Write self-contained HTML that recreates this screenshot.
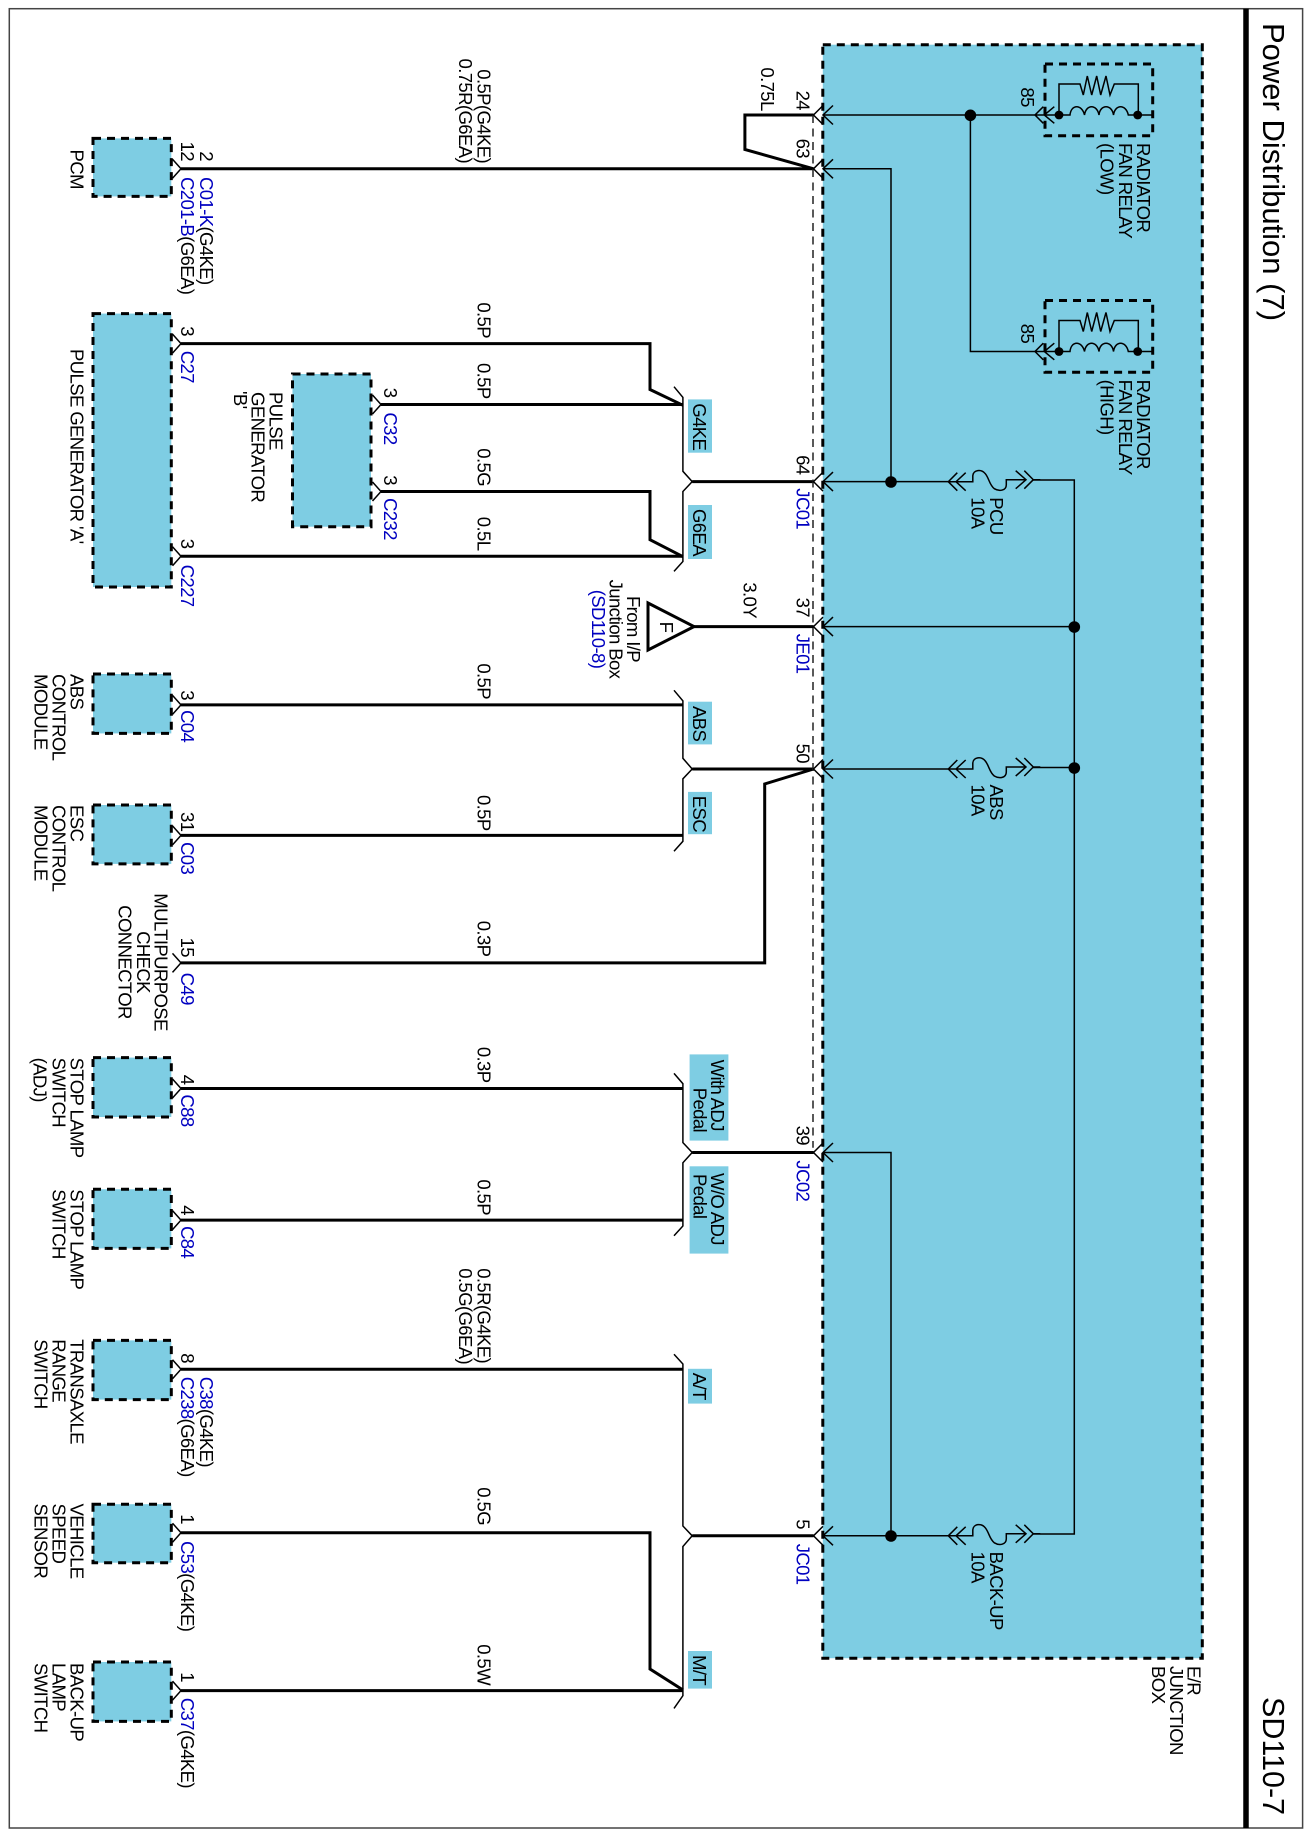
<!DOCTYPE html>
<html><head><meta charset="utf-8"><title>Power Distribution (7)</title>
<style>
html,body{margin:0;padding:0;background:#fff}
svg{display:block}
text{font-family:"Liberation Sans",Arial,sans-serif;font-size:18.6px;letter-spacing:-0.65px;fill:#000}
.b{fill:#0000c0}
text.t{font-size:31px;letter-spacing:0}
text.t2{font-size:30.5px;letter-spacing:0}
.e{text-anchor:end}
.m{text-anchor:middle}
.w{fill:none;stroke:#000;stroke-width:3}
.n{fill:none;stroke:#000;stroke-width:1.5}
.d{fill:#7ecde3;stroke:#000;stroke-width:3;stroke-dasharray:8 6}
.l{fill:#7ecde3;stroke:none}
</style></head><body>
<svg width="1311" height="1839" viewBox="0 0 1311 1839" xmlns="http://www.w3.org/2000/svg">
<defs>
<path id="mc" class="n" d="M-8.5,-9.5 L0,0 L-8.5,9.5"/>
<path id="fc" class="n" d="M0,-9.5 L-9.5,0 L0,9.5 M10,-9.5 L0,0 L10,9.5"/>
<g id="fuse">
<path class="n" d="M9,-9 L0,0 L9,9 M17.4,-9 L7.7,0 L17.4,9 M0,0 H24.5 V-6 C25,-12 33,-13 37,-8 C41,-3 41,3 46,7 C51,10 58,9 58,3 V-2 H77.7 M67.4,-11 L77.7,-2 L67.4,7 M76,-11 L85,-2 L76,7 M85,-2 H92"/>
</g>
<g id="relay">
<rect class="d" x="1045" y="64" width="107.7" height="71.7"/>
<path class="n" d="M1035,115 L1059,115 M1043.3,106.7 L1035,115 L1043.3,123.3 M1054.3,106.7 L1044.3,115 L1054.3,123.3"/>
<path class="n" d="M1059,115 V84 H1080 L1083.3,95 L1087.3,76 L1091.7,95 L1096.7,76 L1100.7,95 L1106,76 L1110,95 L1114.3,84 H1138.3 V115"/>
<path class="n" d="M1059,115 H1070 C1071,104 1082,104 1084.5,115 C1086,104 1097,104 1099,115 C1100,104 1112,104 1113.5,115 C1115,104 1126,104 1128.3,115 H1152.7"/>
<circle cx="1059" cy="115" r="4.4"/><circle cx="1137.7" cy="115" r="4.4"/>
</g>
</defs>
<rect width="1311" height="1839" fill="#fff"/>
<rect x="9.3" y="8.7" width="1293.3" height="1819.3" fill="none" stroke="#444" stroke-width="1.5"/>
<path d="M1246,8.7 V1828" stroke="#000" stroke-width="5.5" fill="none"/>

<!-- E/R box -->
<rect class="d" x="822.8" y="44.7" width="379.5" height="1613.5"/>

<!-- module boxes -->
<rect class="d" x="93" y="138.4" width="78.3" height="58"/>
<rect class="d" x="93" y="313.6" width="78.3" height="273.4"/>
<rect class="d" x="292.5" y="374" width="78.5" height="152.7"/>
<rect class="d" x="93" y="674" width="78.3" height="59.4"/>
<rect class="d" x="93" y="805" width="78.3" height="58.9"/>
<rect class="d" x="93" y="1057.6" width="78.3" height="59.4"/>
<rect class="d" x="93" y="1189.3" width="78.3" height="59.1"/>
<rect class="d" x="93" y="1340.4" width="78.3" height="59.2"/>
<rect class="d" x="93" y="1504.2" width="78.3" height="58.5"/>
<rect class="d" x="93" y="1662" width="78.3" height="59.4"/>

<!-- label boxes -->
<rect class="l" x="688" y="399.4" width="24" height="53.3"/>
<rect class="l" x="688" y="505" width="24" height="54"/>
<rect class="l" x="688" y="701.7" width="24" height="42.7"/>
<rect class="l" x="688" y="791.9" width="24" height="42.3"/>
<rect class="l" x="689.6" y="1054.4" width="38.8" height="86.2"/>
<rect class="l" x="689.6" y="1166.3" width="38.8" height="87.3"/>
<rect class="l" x="688" y="1368.8" width="24" height="34.8"/>
<rect class="l" x="688" y="1651" width="24" height="37.6"/>

<!-- thick wires -->
<path class="w" d="M181,168.8 H813.6 L744.9,149.5 V115 H813.6"/>
<path class="w" d="M181,343.6 H650 V389.5 L683,405.3"/>
<path class="w" d="M381,404.5 H683"/>
<path class="w" d="M381,491.5 H650 V539.7 L683,556.7"/>
<path class="w" d="M181,556.3 H683"/>
<path class="w" d="M692.2,481.6 H813.6"/>
<path class="w" d="M694,626.6 H813.6"/>
<path class="w" d="M694,626.6 L648,603 V650 Z"/>
<path class="w" d="M181,704.9 H682.9"/>
<path class="w" d="M692.2,769 H813.6 L764.7,784 V962.9 H181"/>
<path class="w" d="M181,835.4 H682.9"/>
<path class="w" d="M181,1088.5 H682.9"/>
<path class="w" d="M692.2,1152.5 H813.6"/>
<path class="w" d="M181,1220.1 H682.9"/>
<path class="w" d="M181,1369.2 H682.9"/>
<path class="w" d="M181,1532.7 H650 V1669 L683,1690"/>
<path class="w" d="M181,1690.6 H683"/>
<path class="w" d="M692.2,1535.8 H813.6"/>

<!-- splice brackets -->
<path class="n" d="M674,386.7 L682.9,397.4 V471.3 L692.2,481.6 L682.9,491.5 V561.5 L674,571.4"/>
<path class="n" d="M674,690.3 L682.9,700.9 V758.3 L692.2,769 L682.9,778.8 V841.3 L674,851.2"/>
<path class="n" d="M674,1073.4 L682.9,1083.7 V1142.6 L692.2,1152.5 L682.9,1162.8 V1226 L674,1235.8"/>
<path class="n" d="M674,1354.2 L682.9,1364 V1526 L692.2,1535.8 L682.9,1546.5 V1695.7 L674,1708.4"/>

<!-- dashed shared line -->
<path d="M813,115 V1147.8" fill="none" stroke="#222" stroke-width="1.5" stroke-dasharray="8 5.5"/>

<!-- male connectors -->
<use href="#mc" x="181" y="168.8"/><use href="#mc" x="181" y="343.6"/><use href="#mc" x="381" y="404.5"/>
<use href="#mc" x="381" y="491.5"/><use href="#mc" x="181" y="556.3"/><use href="#mc" x="181" y="704.9"/>
<use href="#mc" x="181" y="835.4"/><use href="#mc" x="181" y="962.9"/><use href="#mc" x="181" y="1088.5"/>
<use href="#mc" x="181" y="1220.1"/><use href="#mc" x="181" y="1369.2"/><use href="#mc" x="181" y="1532.7"/>
<use href="#mc" x="181" y="1690.6"/>

<!-- female connectors -->
<use href="#fc" x="823" y="115"/><use href="#fc" x="823" y="168.8"/><use href="#fc" x="823" y="481.6"/>
<use href="#fc" x="823" y="626.6"/><use href="#fc" x="823" y="769"/><use href="#fc" x="823" y="1152.5"/><use href="#fc" x="823" y="1535.8"/>

<!-- internal lines -->
<path class="n" d="M823,115 H1035.7"/>
<path class="n" d="M970.4,115 V351.5 H1035.7"/>
<path class="n" d="M823,168.8 H891 V481.6"/>
<path class="n" d="M823,481.6 H948.3"/>
<path class="n" d="M823,626.6 H1074.3"/>
<path class="n" d="M823,769 H948.3"/>
<path class="n" d="M823,1152.5 H891 V1535.8"/>
<path class="n" d="M823,1535.8 H948.3"/>
<path class="n" d="M1033,480 H1074.3 V1534 H1033"/>
<path class="n" d="M1033,767.5 H1074.3"/>
<use href="#fuse" x="948.3" y="481.7"/>
<use href="#fuse" x="948.3" y="769"/>
<use href="#fuse" x="948.3" y="1535.8"/>
<use href="#relay"/>
<use href="#relay" y="236.5"/>
<circle cx="970.4" cy="115.3" r="5.8"/>
<circle cx="891" cy="482" r="5.8"/>
<circle cx="1074.3" cy="627" r="5.8"/>
<circle cx="1074.3" cy="768" r="5.8"/>
<circle cx="891" cy="1536" r="5.8"/>

<!-- all text: rotated 90deg; x = page Y, y = -page X -->
<g transform="rotate(90)">
<text class="t" x="23" y="-1263">Power Distribution (7)</text>
<text class="t2" x="1697" y="-1263">SD110-7</text>

<text class="e" x="163" y="-477.7">0.5P(G4KE)</text>
<text class="e" x="163" y="-459">0.75R(G6EA)</text>
<text x="149.5" y="-70.7">PCM</text>
<text class="e" x="161" y="-200">2</text>
<text class="e" x="161" y="-181">12</text>
<text x="177" y="-200"><tspan class="b">C01-K</tspan>(G4KE)</text>
<text x="177" y="-181"><tspan class="b">C201-B</tspan>(G6EA)</text>

<text x="349" y="-70.7">PULSE GENERATOR 'A'</text>
<text x="392" y="-269.4">PULSE</text>
<text x="392" y="-251.7">GENERATOR</text>
<text x="391" y="-234">'B'</text>
<text class="e" x="338" y="-477.7">0.5P</text>
<text class="e" x="398.6" y="-477.7">0.5P</text>
<text class="e" x="486" y="-477.7">0.5G</text>
<text class="e" x="550.4" y="-477.7">0.5L</text>
<text class="e" x="336" y="-181">3</text>
<text class="b" x="350.7" y="-181">C27</text>
<text class="e" x="397.4" y="-383.8">3</text>
<text class="b" x="412.4" y="-383.8">C32</text>
<text class="e" x="485" y="-383.8">3</text>
<text class="b" x="498" y="-383.8">C232</text>
<text class="e" x="548.4" y="-181">3</text>
<text class="b" x="564.6" y="-181">C227</text>

<text class="e" x="110.7" y="-760.9">0.75L</text>
<text class="e" x="110" y="-796.3">24</text>
<text class="e" x="158" y="-796.3">63</text>
<text class="e" x="474.5" y="-796.3">64</text>
<text class="b" x="488.3" y="-796.3">JC01</text>

<text class="e" x="106.8" y="-1021">85</text>
<text class="e" x="343.2" y="-1021">85</text>
<text x="143" y="-1137">RADIATOR</text>
<text x="143" y="-1119.2">FAN RELAY</text>
<text x="143" y="-1100.5">(LOW)</text>
<text x="379.6" y="-1137">RADIATOR</text>
<text x="379.6" y="-1119.2">FAN RELAY</text>
<text x="379.6" y="-1100.5">(HIGH)</text>

<text x="497.3" y="-990">PCU</text>
<text x="497.3" y="-971.7">10A</text>
<text x="784.5" y="-990">ABS</text>
<text x="784.5" y="-971.7">10A</text>
<text x="1551.6" y="-990">BACK-UP</text>
<text x="1551.6" y="-971.7">10A</text>

<text x="403.3" y="-693">G4KE</text>
<text x="508.9" y="-693">G6EA</text>
<text x="706" y="-693">ABS</text>
<text x="795.8" y="-693">ESC</text>
<text x="1059.6" y="-711">With ADJ</text>
<text class="e" x="1132" y="-693.4">Pedal</text>
<text x="1173" y="-711">W/O ADJ</text>
<text x="1174" y="-693.4">Pedal</text>
<text x="1372.8" y="-693">A/T</text>
<text x="1655" y="-693">M/T</text>

<text class="m" x="629" y="-627">From I/P</text>
<text class="m" x="629" y="-609.5">Junction Box</text>
<text class="m b" x="629" y="-592">(SD110-8)</text>
<text class="m" x="627" y="-660">F</text>
<text class="e" x="618" y="-743.6">3.0Y</text>
<text class="e" x="617" y="-796.3">37</text>
<text class="b" x="633.7" y="-796.3">JE01</text>

<text x="674" y="-70.7">ABS</text><text x="674" y="-52.6">CONTROL</text><text x="674" y="-34.5">MODULE</text>
<text class="e" x="699" y="-477.7">0.5P</text>
<text class="e" x="700" y="-181">3</text>
<text class="b" x="710" y="-181">C04</text>
<text x="805" y="-70.7">ESC</text><text x="805" y="-52.6">CONTROL</text><text x="805" y="-34.5">MODULE</text>
<text class="e" x="830.6" y="-477.7">0.5P</text>
<text class="e" x="831.4" y="-181">31</text>
<text class="b" x="842" y="-181">C03</text>
<text class="e" x="763" y="-796.3">50</text>

<text class="m" x="962" y="-154.5">MULTIPURPOSE</text>
<text class="m" x="962" y="-136.8">CHECK</text>
<text class="m" x="962" y="-118.7">CONNECTOR</text>
<text class="e" x="956.4" y="-477.7">0.3P</text>
<text class="e" x="957" y="-181">15</text>
<text class="b" x="972.6" y="-181">C49</text>

<text x="1057.6" y="-70.7">STOP LAMP</text><text x="1057.6" y="-52.6">SWITCH</text><text x="1057.6" y="-33.5">(ADJ)</text>
<text class="e" x="1082.5" y="-477.7">0.3P</text>
<text class="e" x="1084.5" y="-181">4</text>
<text class="b" x="1094.4" y="-181">C88</text>
<text class="e" x="1145" y="-796.3">39</text>
<text class="b" x="1160.4" y="-796.3">JC02</text>
<text x="1189.3" y="-70.7">STOP LAMP</text><text x="1189.3" y="-52.6">SWITCH</text>
<text class="e" x="1215" y="-477.7">0.5P</text>
<text class="e" x="1215" y="-181">4</text>
<text class="b" x="1226" y="-181">C84</text>

<text class="e" x="1363" y="-477.7">0.5R(G4KE)</text>
<text class="e" x="1364" y="-459">0.5G(G6EA)</text>
<text x="1339.2" y="-70.7">TRANSAXLE</text><text x="1339.2" y="-52.6">RANGE</text><text x="1339.2" y="-34.5">SWITCH</text>
<text class="e" x="1363" y="-181">8</text>
<text x="1376.7" y="-200"><tspan class="b">C38</tspan>(G4KE)</text>
<text x="1376.7" y="-181"><tspan class="b">C238</tspan>(G6EA)</text>

<text x="1503.5" y="-70.7">VEHICLE</text><text x="1503.5" y="-52.6">SPEED</text><text x="1503.5" y="-34.5">SENSOR</text>
<text class="e" x="1525" y="-477.7">0.5G</text>
<text class="e" x="1524" y="-181">1</text>
<text x="1541" y="-181"><tspan class="b">C53</tspan>(G4KE)</text>
<text class="e" x="1529" y="-796.3">5</text>
<text class="b" x="1543.7" y="-796.3">JC01</text>

<text x="1663" y="-70.7">BACK-UP</text><text x="1663" y="-52.6">LAMP</text><text x="1663" y="-34.5">SWITCH</text>
<text class="e" x="1685" y="-477.7">0.5W</text>
<text class="e" x="1682" y="-181">1</text>
<text x="1697.7" y="-181"><tspan class="b">C37</tspan>(G4KE)</text>

<text x="1666" y="-1187.5">E/R</text>
<text x="1666" y="-1170">JUNCTION</text>
<text x="1666" y="-1152">BOX</text>
</g>
</svg>
</body></html>
